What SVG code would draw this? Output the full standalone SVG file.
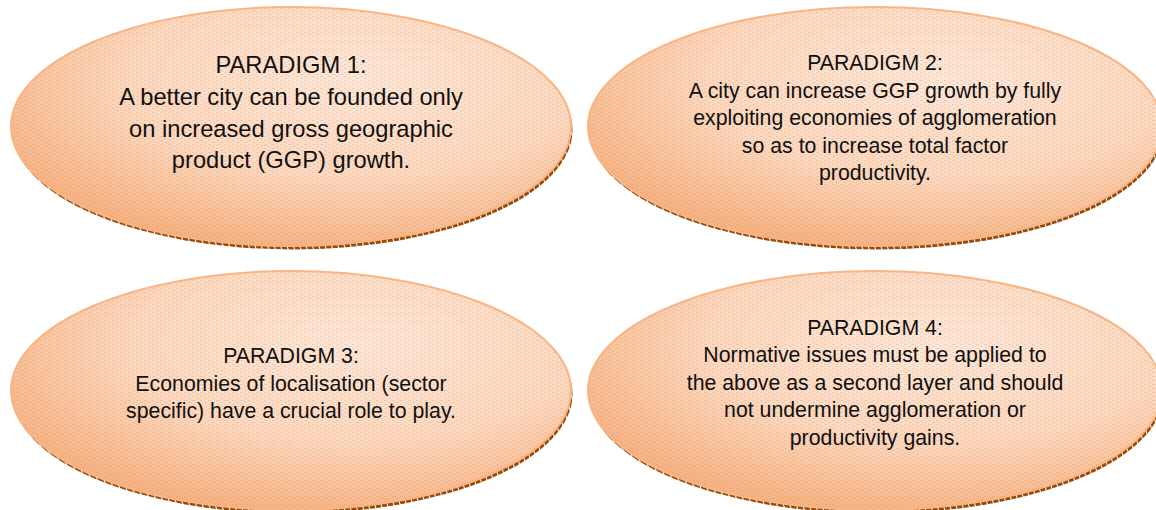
<svg xmlns="http://www.w3.org/2000/svg" width="1156" height="510" viewBox="0 0 1156 510">
<style>
.lbl{font-family:"Liberation Sans",Arial,sans-serif;fill:#111;text-anchor:middle}
.t1{font-size:23.7px}
.t2{font-size:21.3px}
.body{fill:url(#grad);stroke:#f8b585;stroke-width:2}
.tex{fill:url(#dots);stroke:none}
.shadow{fill:url(#stripes)}
</style>
<defs>
<radialGradient id="grad" cx="0.62" cy="0.3" r="0.75" fx="0.62" fy="0.3">
<stop offset="0" stop-color="#fde7d8"/>
<stop offset="0.55" stop-color="#fcd8bf"/>
<stop offset="1" stop-color="#f5ae7c"/>
</radialGradient>
<pattern id="dots" width="8" height="4" patternUnits="userSpaceOnUse">
<rect x="0" y="0" width="3" height="1" fill="#e09a6a" opacity="0.3"/>
<rect x="4" y="2" width="3" height="1" fill="#e09a6a" opacity="0.3"/>
</pattern>
<pattern id="stripes" width="6" height="6" patternUnits="userSpaceOnUse" patternTransform="rotate(-20)">
<rect x="0" y="0" width="6" height="6" fill="#ffffff"/>
<rect x="0" y="0" width="5" height="6" fill="#9a4a08"/>
</pattern>
</defs>
<g id="connectors"></g>
<g id="node1">
<ellipse class="shadow" cx="292.5" cy="130" rx="280" ry="119.5"/>
<ellipse class="body" cx="291" cy="126.5" rx="280" ry="119.5"/>
<ellipse class="tex" cx="291" cy="126.5" rx="279" ry="118.5"/>
<text class="lbl t1" x="291" y="73">PARADIGM 1:</text>
<text class="lbl t1" x="291" y="105">A better city can be founded only</text>
<text class="lbl t1" x="291" y="137">on increased gross geographic</text>
<text class="lbl t1" x="291" y="168">product (GGP) growth.</text>
</g>
<g id="node2">
<ellipse class="shadow" cx="876.5" cy="130" rx="287" ry="119.5"/>
<ellipse class="body" cx="875" cy="126.5" rx="287" ry="119.5"/>
<ellipse class="tex" cx="875" cy="126.5" rx="286" ry="118.5"/>
<text class="lbl t2" x="875" y="70">PARADIGM 2:</text>
<text class="lbl t2" x="875" y="97.5">A city can increase GGP growth by fully</text>
<text class="lbl t2" x="875" y="125">exploiting economies of agglomeration</text>
<text class="lbl t2" x="875" y="152.5">so as to increase total factor</text>
<text class="lbl t2" x="875" y="180">productivity.</text>
</g>
<g id="node3">
<ellipse class="shadow" cx="292.5" cy="394" rx="280" ry="119.5"/>
<ellipse class="body" cx="291" cy="390.5" rx="280" ry="119.5"/>
<ellipse class="tex" cx="291" cy="390.5" rx="279" ry="118.5"/>
<text class="lbl t2" x="291" y="363">PARADIGM 3:</text>
<text class="lbl t2" x="291" y="390.5">Economies of localisation (sector</text>
<text class="lbl t2" x="291" y="418">specific) have a crucial role to play.</text>
</g>
<g id="node4">
<ellipse class="shadow" cx="876.5" cy="394" rx="287" ry="119.5"/>
<ellipse class="body" cx="875" cy="390.5" rx="287" ry="119.5"/>
<ellipse class="tex" cx="875" cy="390.5" rx="286" ry="118.5"/>
<text class="lbl t2" x="875" y="334.5">PARADIGM 4:</text>
<text class="lbl t2" x="875" y="362">Normative issues must be applied to</text>
<text class="lbl t2" x="875" y="389.5">the above as a second layer and should</text>
<text class="lbl t2" x="875" y="417">not undermine agglomeration or</text>
<text class="lbl t2" x="875" y="444.5">productivity gains.</text>
</g>
</svg>
